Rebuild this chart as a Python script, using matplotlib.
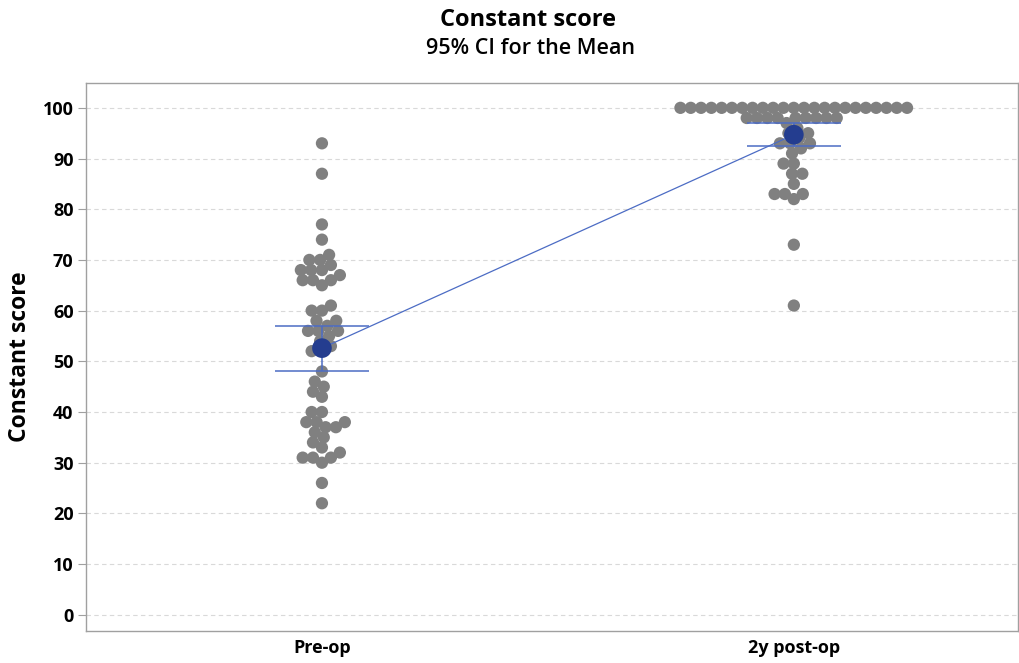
import numpy as np
import matplotlib.pyplot as plt

# individual scores
groups = ["Pre-op", "2y post-op"]
pre_op = [93, 87, 77, 74,
          71, 70, 70, 69, 68, 68, 68, 67, 66, 66, 66, 65,
          61, 60, 60, 58, 58, 57, 56, 56, 56,
          55, 54, 53, 52, 52,
          48, 46, 45, 44, 43,
          40, 40, 38, 38, 38, 37, 37, 36, 35, 34, 33, 32, 31, 31, 31, 30,
          26, 22]
post_op = [100] * 23 + [98] * 9 + [97, 96, 95, 95, 94, 93, 93, 93, 92, 91,
                                   89, 89, 87, 87, 85, 83, 83, 83, 82, 73, 61]
means = [52.6, 94.7]
ci_low = [48.0, 92.5]
ci_high = [57.0, 97.0]
yticks = list(range(0, 101, 10))

DOT = "#808080"
CI_COL = "#4c6cc4"
MEAN_COL = "#243d8f"
FONT = "Open Sans"


def swarm_offsets(ypix, d):
    '''
    Simple beeswarm: place each point as close to the centre as possible
    without overlapping points already placed (pixel space)
    '''
    order = np.argsort(ypix, kind="stable")
    placed = []
    xs = np.zeros(len(ypix))
    for i in order:
        y = ypix[i]
        cands = [0.0]
        for px, py in placed:
            dy = y - py
            if abs(dy) < d:
                dx = np.sqrt(d * d - dy * dy)
                cands += [px + dx, px - dx]
        cands.sort(key=lambda c: (round(abs(c), 6), c))
        for c in cands:
            if all((c - px) ** 2 + (y - py) ** 2 >= d * d - 1e-6 for px, py in placed):
                xs[i] = c
                placed.append((c, y))
                break
    return xs


fig = plt.figure(figsize=(10.2, 6.63), dpi=100)
ax = fig.add_axes([86 / 1020, 1 - 631 / 663, (1018 - 86) / 1020, (631 - 83) / 663])
ax.set_xlim(-0.5, 1.475)
ax.set_ylim(-3.2, 104.9)

fig.canvas.draw()
to_pix = ax.transData
to_data = ax.transData.inverted()

for gi, vals in enumerate([pre_op, post_op]):
    vals = np.array(vals, dtype=float)
    pts = to_pix.transform(np.column_stack([np.full(len(vals), gi), vals]))
    offs = swarm_offsets(pts[:, 1], 10.3)
    data = to_data.transform(np.column_stack([pts[:, 0] + offs, pts[:, 1]]))
    ax.scatter(data[:, 0], data[:, 1], s=78, color=DOT, edgecolors="none", zorder=2)

x = np.arange(len(groups))
ax.plot(x, means, color=CI_COL, lw=0.9, zorder=3)
for gi in x:
    ax.hlines([ci_low[gi], ci_high[gi]], gi - 0.1, gi + 0.1, color=CI_COL, lw=1.1, zorder=3)
    ax.vlines(gi, ci_low[gi], ci_high[gi], color=CI_COL, lw=1.1, zorder=3)
ax.scatter(x, means, s=200, color=MEAN_COL, edgecolors="none", zorder=4)

ax.set_yticks(yticks)
ax.set_xticks(x, labels=groups)
ax.grid(axis="y", color="#d9d9d9", ls=(0, (4, 3)), lw=0.8)
ax.set_axisbelow(True)
for s in ax.spines.values():
    s.set_color("#a0a0a0")
    s.set_linewidth(1)
ax.tick_params(axis="y", length=6, color="#a0a0a0", labelsize=13, pad=3)
ax.tick_params(axis="x", length=0, labelsize=13, pad=6)
for lab in ax.get_xticklabels() + ax.get_yticklabels():
    lab.set_fontweight("bold")
    lab.set_family(FONT)

ax.set_ylabel("Constant score", fontsize=16.5, fontweight="bold", family=FONT, labelpad=8)
fig.text(528 / 1020, 1 - 20 / 663, "Constant score", ha="center", va="center",
         fontsize=17, fontweight="bold", family=FONT)
fig.text(530 / 1020, 1 - 48 / 663, "95% CI for the Mean", ha="center", va="center",
         fontsize=15.5, fontweight="semibold", family=FONT)

fig.savefig("out.png", dpi=100)
